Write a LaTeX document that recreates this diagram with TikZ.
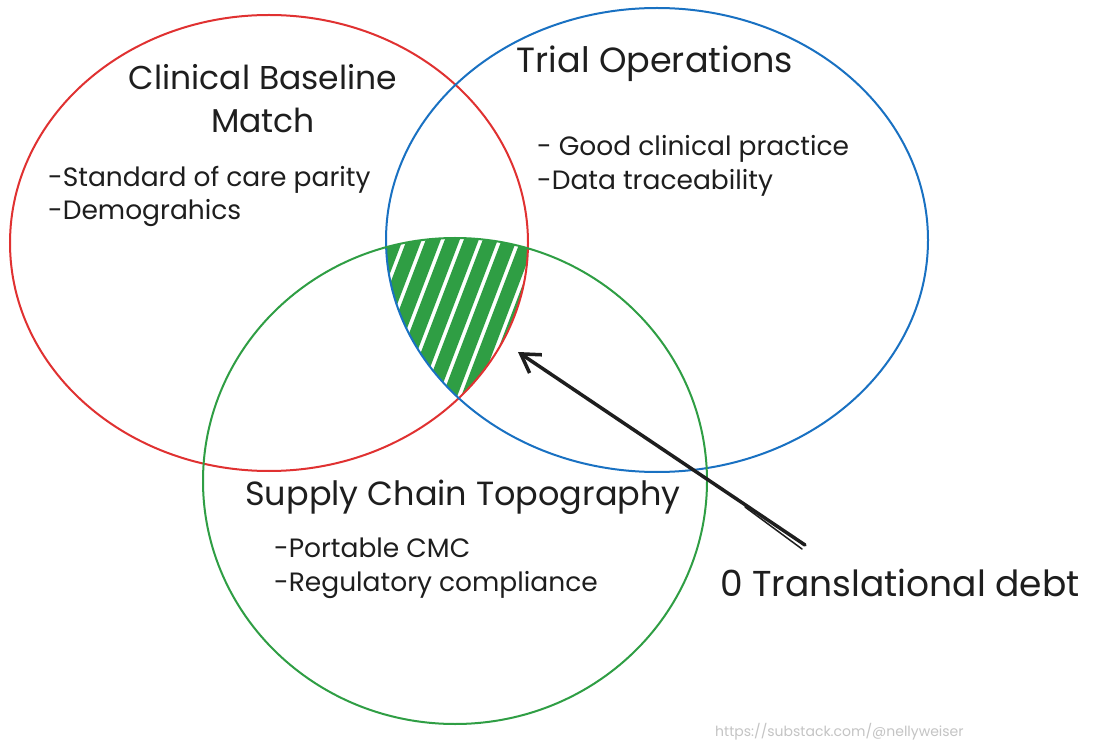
\documentclass[tikz,border=0pt]{standalone}
\usepackage{fontspec}
\setmainfont{Poppins}
\usetikzlibrary{arrows.meta}
\definecolor{cred}{HTML}{E03131}
\definecolor{cblue}{HTML}{1971C2}
\definecolor{cgreen}{HTML}{2F9E44}
\definecolor{cink}{HTML}{1E1E1E}
\definecolor{cwm}{HTML}{C4C4C4}
\begin{document}
\begin{tikzpicture}[x=1pt,y=-1pt,
  ring/.style={line width=2pt},
  head/.style={font=\fontsize{33}{40}\selectfont, text=cink, anchor=base, inner sep=0pt},
  item/.style={font=\fontsize{26.5}{32}\selectfont, text=cink, anchor=base west, inner sep=0pt},
  hatch/.style={cgreen, line width=14pt, line cap=round},
  pointer/.style={cink, line width=3.5pt, line cap=round, -{Straight Barb[length=18pt, width=22pt, line width=3.5pt]}},
]
\useasboundingbox (0,0) rectangle (1093,751);
\fill[white] (0,0) rectangle (1093,751);

% hatched triple intersection
\begin{scope}
  \clip (269,243) ellipse [x radius=259, y radius=228];
  \clip (657,240) ellipse [x radius=271, y radius=232];
  \clip (455,481) ellipse [x radius=252, y radius=243];
  \foreach \i in {0,...,16} {
    \draw[hatch] (300+\i*19, 440) -- ++(80,-210);
  }
\end{scope}

% circles
\draw[ring, cred]   (269,243) ellipse [x radius=259, y radius=228];
\draw[ring, cblue]  (657,240) ellipse [x radius=271, y radius=232];
\draw[ring, cgreen] (455,481) ellipse [x radius=252, y radius=243];

% texts
\node[head] (cb1) at (263,90) {Clinical Baseline};
\node[head] (cb2) at (263,133) {Match};
\node[item] (cb3) at (48,187) {-Standard of care parity};
\node[item] (cb4) at (48,220) {-Demograhics};

\node[head, font=\fontsize{35}{40}\selectfont] (to1) at (655,73) {Trial Operations};
\node[item] (to2) at (537,156) {- Good clinical practice};
\node[item] (to3) at (537,190) {-Data traceability};

\node[head, font=\fontsize{33.5}{40}\selectfont] (sc1) at (463,505) {Supply Chain Topography};
\node[item] (sc2) at (274,557) {-Portable CMC};
\node[item] (sc3) at (274,591) {-Regulatory compliance};

\node[head, font=\fontsize{36}{40}\selectfont, anchor=base west] (debt) at (720,596) {0 Translational debt};

\node[font=\fontsize{14}{16}\selectfont, text=cwm, anchor=base west, inner sep=0pt] (wm) at (715,736) {https://substack.com/@nellyweiser};

% arrow
\coordinate (tail) at (805,545);
\coordinate (tail2) at (802,549);
\coordinate (mid) at (745,507);
\coordinate (tip) at (518,352);
\draw[pointer] (tail) -- (tip);
\draw[cink, line width=1.5pt, line cap=round] (tail2) -- (mid);
\end{tikzpicture}
\end{document}
